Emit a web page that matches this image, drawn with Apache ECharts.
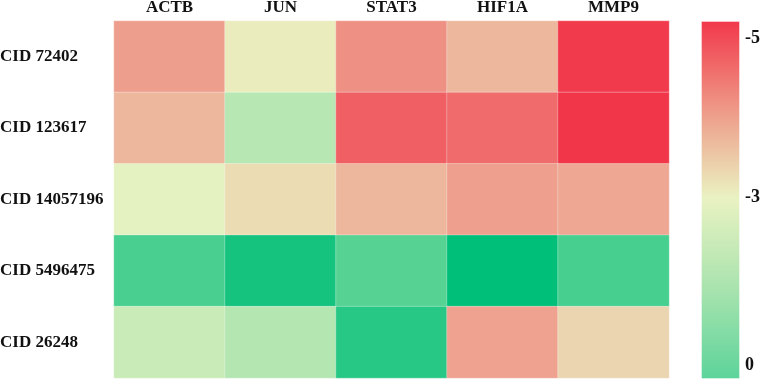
<!DOCTYPE html>
<html>
<head>
<meta charset="utf-8">
<script src="https://cdn.jsdelivr.net/npm/echarts@6/dist/echarts.min.js"></script>
<style>html,body{margin:0;padding:0;background:#fff;}#c{width:763px;height:380px;}</style>
</head>
<body>
<div id="c"></div>
<script>
const genes = ['ACTB', 'JUN', 'STAT3', 'HIF1A', 'MMP9'];
const compounds = ['CID 72402', 'CID 123617', 'CID 14057196', 'CID 5496475', 'CID 26248'];
const row72402 = [-4.01, -3.07, -4.17, -3.70, -5.20];
const row123617 = [-3.70, -1.85, -4.76, -4.62, -5.25];
const row14057196 = [-2.86, -3.26, -3.70, -3.99, -3.90];
const row5496475 = [0.62, 1.78, 0.31, 2.25, 0.68];
const row26248 = [-2.24, -1.79, 1.36, -3.96, -3.34];
const colorbarTicks = ['-5', '-3', '0'];

const rows = [row72402, row123617, row14057196, row5496475, row26248];
const data = [];
rows.forEach((r, yi) => r.forEach((v, xi) => data.push([xi, yi, v])));

const font = '"Liberation Serif", "Times New Roman", serif';
const chart = echarts.init(document.getElementById('c'));
chart.setOption({
  animation: false,
  grid: { left: 114, right: 94, top: 21, bottom: 2, outerBoundsMode: 'none', containLabel: false },
  xAxis: {
    type: 'category', data: genes, position: 'top',
    axisLine: { show: false }, axisTick: { show: false }, splitLine: { show: false },
    axisLabel: { color: '#111', fontFamily: font, fontWeight: 'bold', fontSize: 17, margin: 5 }
  },
  yAxis: {
    type: 'category', data: compounds, inverse: true,
    axisLine: { show: false }, axisTick: { show: false }, splitLine: { show: false },
    axisLabel: { color: '#111', fontFamily: font, fontWeight: 'bold', fontSize: 17, align: 'left', margin: 114 }
  },
  visualMap: {
    show: false, type: 'continuous', min: -5.25, max: 2.25, dimension: 2,
    inRange: { color: ['#f2364a', '#ef7572', '#edb39a', '#eaf2c2', '#c9ebb7', '#a7e3ad',
                       '#86dca2', '#64d598', '#43ce8d', '#21c683', '#00bf78'] }
  },
  series: [{
    type: 'heatmap', data: data,
    itemStyle: { borderColor: 'rgba(255,255,255,0.3)', borderWidth: 1 },
    emphasis: { disabled: true }
  }],
  graphic: [
    { type: 'rect', left: 701, top: 21, shape: { width: 38, height: 357 },
      style: { fill: new echarts.graphic.LinearGradient(0, 0, 0, 1, [
        { offset: 0, color: '#f2384a' },
        { offset: 0.25, color: '#ee9a88' },
        { offset: 0.493, color: '#eaf2c2' },
        { offset: 0.75, color: '#a8e3ae' },
        { offset: 1, color: '#5cd49a' }
      ]), stroke: 'rgba(255,255,255,0.4)', lineWidth: 1 } },
    { type: 'text', left: 745, top: 29, style: { text: colorbarTicks[0], font: 'bold 18px ' + font, fill: '#111' } },
    { type: 'text', left: 745, top: 188, style: { text: colorbarTicks[1], font: 'bold 18px ' + font, fill: '#111' } },
    { type: 'text', left: 745, top: 356, style: { text: colorbarTicks[2], font: 'bold 18px ' + font, fill: '#111' } }
  ]
});
</script>
</body>
</html>
